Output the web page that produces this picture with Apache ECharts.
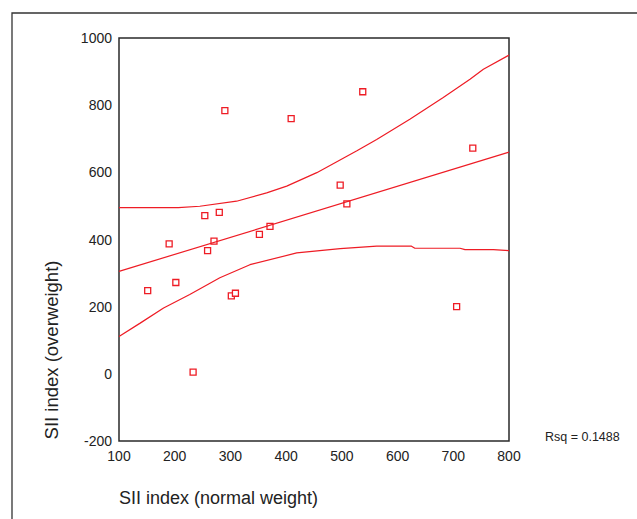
<!DOCTYPE html>
<html>
<head>
<meta charset="utf-8">
<script src="https://cdn.jsdelivr.net/npm/echarts@6/dist/echarts.min.js"></script>
<style>
  html, body { margin: 0; padding: 0; background: #fff; }
  #chart { width: 637px; height: 519px; }
</style>
</head>
<body>
<div id="chart"></div>
<script>
    // points (normal weight, overweight)
    var normalWeight = [151.5, 190, 202, 233, 290, 254, 259, 270.5, 280, 301.6, 309, 352, 371, 409, 497, 509, 537.5, 735, 706];
    var overWeight = [248, 387, 272, 5, 784, 471, 367, 395, 481, 232, 240, 415, 439, 760, 562, 506, 840, 672, 200];

    // fitted line ends
    var fitX = [100, 800];
    var fitY = [305, 660];

    // upper / lower 95% band
    var upperX = [100, 206.5, 245, 311, 365, 401, 455, 527, 562.5, 622, 682, 730, 754, 800];
    var upperY = [495, 495, 499, 514, 539, 559, 599, 664, 698, 758, 823, 877, 907, 949];
    var lowerX = [100, 138, 180, 227, 281, 335, 419, 497, 562.5, 625, 631, 712, 721, 772, 800];
    var lowerY = [111, 151, 196, 236, 286, 325, 360, 373, 380, 380, 374, 374, 370, 370, 367];

    var xTicks = [100, 800, 100];   // min, max, step
    var yTicks = [-200, 1000, 200];
    var rsqText = "Rsq = 0.1488";

    function pairs(xs, ys) {
        var out = [];
        for (var i = 0; i < xs.length; i++) {
            out.push([xs[i], ys[i]]);
        }
        return out;
    }

    var red = "#ee1c25";
    var font = "Liberation Sans, Arial, sans-serif";

    var myChart = echarts.init(document.getElementById("chart"), null, {renderer: "svg"});
    var option = {
        backgroundColor: "#fff",
        animation: false,
        grid: {
            left: 119, top: 38, width: 390, height: 403,
            show: true,
            borderColor: "#2a2a2a",
            borderWidth: 1.5,
            backgroundColor: "transparent"
        },
        xAxis: {
            type: "value",
            min: xTicks[0], max: xTicks[1], interval: xTicks[2],
            axisLine: {show: false},
            axisTick: {show: false},
            splitLine: {show: false},
            axisLabel: {color: "#222", fontSize: 14, fontFamily: font, margin: 8,
                formatter: function (v) { return String(v); }}
        },
        yAxis: {
            type: "value",
            min: yTicks[0], max: yTicks[1], interval: yTicks[2],
            axisLine: {show: false},
            axisTick: {show: false},
            splitLine: {show: false},
            axisLabel: {color: "#222", fontSize: 14, fontFamily: font, margin: 7,
                formatter: function (v) { return String(v); }}
        },
        series: [{
            type: "line",
            data: pairs(upperX, upperY),
            showSymbol: false,
            lineStyle: {color: red, width: 1.2},
            silent: true
        }, {
            type: "line",
            data: pairs(lowerX, lowerY),
            showSymbol: false,
            lineStyle: {color: red, width: 1.2},
            silent: true
        }, {
            type: "line",
            data: pairs(fitX, fitY),
            showSymbol: false,
            lineStyle: {color: red, width: 1.2},
            silent: true
        }, {
            type: "scatter",
            data: pairs(normalWeight, overWeight),
            symbol: "rect",
            symbolSize: 6,
            itemStyle: {color: "#fff", borderColor: red, borderWidth: 1.3, opacity: 1}
        }],
        graphic: [{
            type: "rect",
            shape: {x: 12, y: 13, width: 700, height: 600},
            style: {fill: "none", stroke: "#333", lineWidth: 1.3},
            silent: true
        }, {
            type: "text",
            x: 119, y: 498,
            style: {text: "SII index (normal weight)", fill: "#222", font: "18px " + font, verticalAlign: "middle"}
        }, {
            type: "text",
            x: 51, y: 350,
            rotation: Math.PI / 2,
            style: {text: "SII index (overweight)", fill: "#222", font: "18.5px " + font, align: "center", verticalAlign: "middle"}
        }, {
            type: "text",
            x: 545, y: 437,
            style: {text: rsqText, fill: "#222", font: "12.5px " + font, verticalAlign: "middle"}
        }]
    };
    myChart.setOption(option);
</script>
</body>
</html>
